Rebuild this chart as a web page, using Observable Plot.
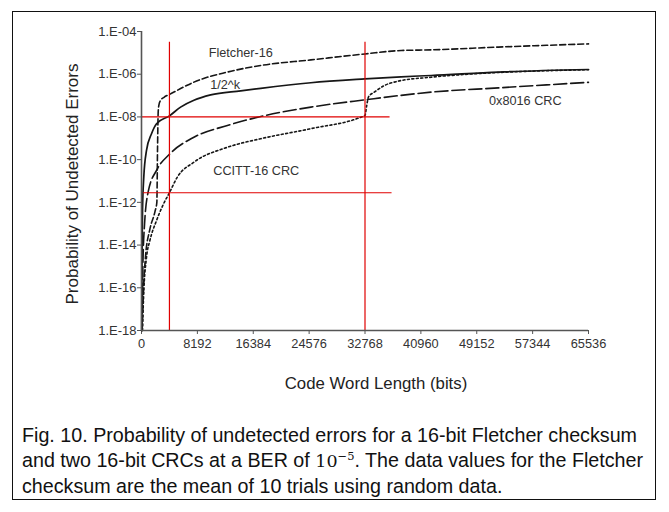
<!DOCTYPE html>
<html><head><meta charset="utf-8">
<script src="https://cdn.jsdelivr.net/npm/d3@7"></script>
<script src="https://cdn.jsdelivr.net/npm/@observablehq/plot@0.6"></script>
<style>
html,body{margin:0;padding:0;background:#fff;}
#wrap{position:relative;width:669px;height:512px;overflow:hidden;font-family:"Liberation Sans",Arial,sans-serif;}
#frame{position:absolute;left:12px;top:11px;width:642px;height:487px;border:1.5px solid #111;}
#chart{position:absolute;left:0;top:0;}
#caption{position:absolute;left:22px;top:423px;width:640px;font-size:19.7px;line-height:25px;color:#111;white-space:nowrap;}
#caption .m{font-family:"DejaVu Serif","Liberation Serif",serif;font-size:17.5px;}
#caption sup{font-size:11.5px;vertical-align:7px;line-height:0;}
</style></head>
<body>
<div id="wrap">
  <div id="frame"></div>
  <div id="chart"></div>
  <div id="caption">Fig. 10. Probability of undetected errors for a 16-bit Fletcher checksum<br>and two 16-bit CRCs at a BER of <span class="m">10<sup>−5</sup></span>. The data values for the Fletcher<br>checksum are the mean of 10 trials using random data.</div>
</div>
<script>
// ---- data (x = code word length in bits, y = log10 of probability) ----
const xTicks = [0, 8192, 16384, 24576, 32768, 40960, 49152, 57344, 65536];
const yTicks = [1e-4, 1e-6, 1e-8, 1e-10, 1e-12, 1e-14, 1e-16, 1e-18];
const yTickLabels = ["1.E-04", "1.E-06", "1.E-08", "1.E-10", "1.E-12", "1.E-14", "1.E-16", "1.E-18"];

const idealBits = [30, 80, 147, 338, 735, 1469, 2204, 4096, 5731, 7685, 10139, 14547, 17486, 24833, 32768, 38057, 42466, 52311, 65536];
const idealLog  = [-18, -14.5, -12.4, -10.8, -9.57, -8.79, -8.32, -7.95, -7.54, -7.22, -6.97, -6.78, -6.66, -6.4, -6.22, -6.12, -6.06, -5.9, -5.78];

const fletcherBits = [100, 300, 600, 1200, 2000, 2250, 2350, 2450, 2550, 2800, 3300, 4096, 6612, 7685, 12593, 17486, 24833, 32768, 38057, 42466, 52311, 65536];
const fletcherLog  = [-18, -16, -14.5, -13.3, -12.4, -12.0, -9.5, -7.75, -7.45, -7.22, -7.08, -6.95, -6.53, -6.37, -5.9, -5.59, -5.33, -5.05, -4.89, -4.86, -4.73, -4.58];

const crc8016Bits = [80, 200, 450, 985, 2204, 4096, 7685, 12593, 17486, 24833, 32768, 42466, 52311, 65536];
const crc8016Log  = [-18, -15, -13, -11.5, -10.5, -9.75, -8.95, -8.4, -7.98, -7.54, -7.2, -6.84, -6.64, -6.38];

const ccittBits = [147, 294, 735, 1220, 2204, 3189, 4096, 5246, 7685, 12593, 17486, 24833, 32180, 32768, 33000, 33300, 34134, 35603, 37572, 42466, 47360, 52311, 65536];
const ccittLog  = [-18, -16.5, -14.57, -13.8, -12.85, -12.1, -11.55, -10.82, -10.12, -9.42, -9.02, -8.55, -8.01, -7.93, -7.5, -7.05, -6.84, -6.53, -6.33, -6.14, -6.01, -5.92, -5.79];

const labelNames = ["Fletcher-16", "1/2^k", "0x8016 CRC", "CCITT-16 CRC"];
const labelBits  = [14547, 12269, 56278, 16824];
const labelLog   = [-5.02, -6.5, -7.25, -10.51];

const redVBits = [4096, 32768];
const redVTop = -4.5;
const redHLog = [-8, -11.55];
const redHStart = [0, 300];
const redHEnd = [36441, 36735];

const xTitle = "Code Word Length (bits)";
const yTitle = "Probability of Undetected Errors";

// ---- build tables ----
const toRows = (bits, logs) => bits.map((b, i) => ({x: b, y: Math.pow(10, logs[i])}));
const ideal = toRows(idealBits, idealLog);
const fletcher = toRows(fletcherBits, fletcherLog);
const crc8016 = toRows(crc8016Bits, crc8016Log);
const ccitt = toRows(ccittBits, ccittLog);
const labels = labelNames.map((t, i) => ({t, x: labelBits[i], y: Math.pow(10, labelLog[i])}));
const redV = redVBits.map(b => ({x: b, y1: 1e-18, y2: Math.pow(10, redVTop)}));
const redH = redHLog.map((l, i) => ({y: Math.pow(10, l), x1: redHStart[i], x2: redHEnd[i]}));
const yFmt = new Map(yTicks.map((t, i) => [t, yTickLabels[i]]));

const ink = "#161616";
const red = "#e00000";
const font = "Liberation Sans, Arial, sans-serif";

const chart = Plot.plot({
  width: 669, height: 405,
  marginLeft: 141, marginRight: 81, marginTop: 31, marginBottom: 75,
  style: {background: "transparent", fontFamily: font, overflow: "visible"},
  x: {domain: [0, 65536]},
  y: {type: "log", domain: [1e-18, 1e-4]},
  marks: [
    Plot.axisX({ticks: xTicks, tickFormat: d => String(d), tickSize: 4, tickPadding: 4, fontSize: 12.8, fill: "#333", stroke: "#555", label: null}),
    Plot.axisY({ticks: yTicks, tickFormat: d => yFmt.get(d), tickSize: 4, tickPadding: 1, fontSize: 13, fill: "#333", stroke: "#555", label: null}),
    Plot.line(ideal, {x: "x", y: "y", stroke: ink, strokeWidth: 1.7, curve: "monotone-x"}),
    Plot.line(fletcher, {x: "x", y: "y", stroke: ink, strokeWidth: 1.6, strokeDasharray: "6,3", curve: "monotone-x"}),
    Plot.line(crc8016, {x: "x", y: "y", stroke: ink, strokeWidth: 1.6, strokeDasharray: "13,4", curve: "monotone-x"}),
    Plot.line(ccitt, {x: "x", y: "y", stroke: ink, strokeWidth: 1.6, strokeDasharray: "2,2.5", curve: "monotone-x"}),
    Plot.ruleX(redV, {x: "x", y1: "y1", y2: "y2", stroke: red, strokeWidth: 1.2}),
    Plot.ruleY(redH, {y: "y", x1: "x1", x2: "x2", stroke: red, strokeWidth: 1.2}),
    Plot.ruleX([0], {stroke: "#555", strokeWidth: 1.6}),
    Plot.ruleY([1e-18], {stroke: "#555", strokeWidth: 1.6}),
    Plot.text(labels, {x: "x", y: "y", text: "t", fontSize: 12.7, fill: "#333"}),
    Plot.text([xTitle], {frameAnchor: "bottom", text: d => d, textAnchor: "middle", dy: 58, dx: 11, fontSize: 16.8, fill: "#222"}),
    Plot.text([yTitle], {frameAnchor: "left", text: d => d, textAnchor: "middle", rotate: -90, dx: -69, dy: 3, fontSize: 17, fill: "#222"})
  ]
});
document.getElementById("chart").appendChild(chart);
</script>
</body></html>
